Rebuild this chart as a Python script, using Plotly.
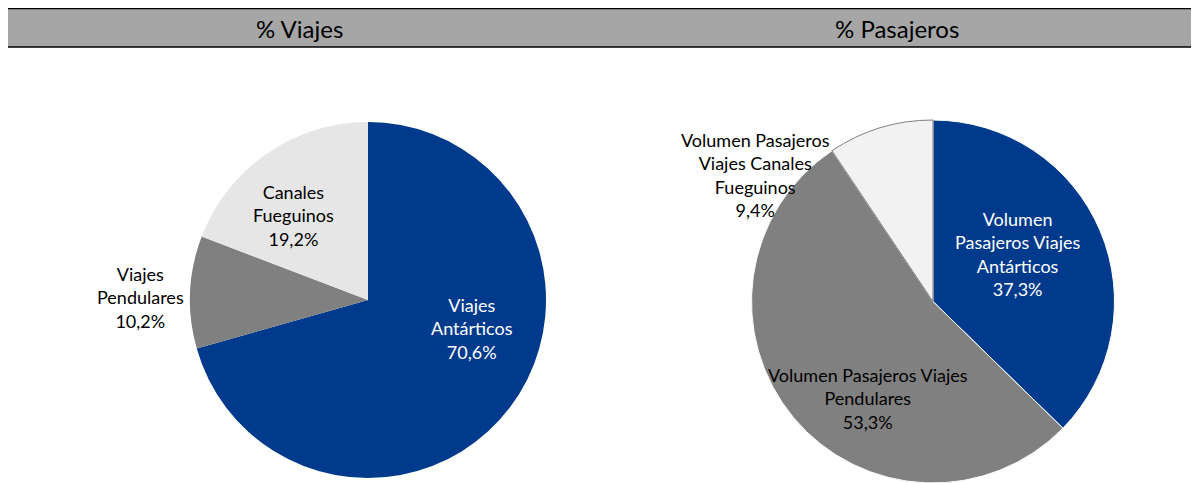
import plotly.graph_objects as go

# data
categorias_viajes = ["Viajes<br>Antárticos", "Viajes<br>Pendulares", "Canales<br>Fueguinos"]
pct_viajes = [70.6, 10.2, 19.2]

categorias_pasajeros = ["Volumen<br>Pasajeros Viajes<br>Antárticos",
                        "Volumen Pasajeros Viajes<br>Pendulares",
                        "Volumen Pasajeros<br>Viajes Canales<br>Fueguinos"]
pct_pasajeros = [37.3, 53.3, 9.4]

titulos = ["% Viajes", "% Pasajeros"]

# page is shown with the browser's default 8px body margin
OFF = 8
W, H = 1199 - OFF, 483 - OFF
FONT = "Lato"
AZUL, GRIS = "#003A8C", "#808080"


def px(x, y):
    """page pixel -> paper coords"""
    return (x - OFF) / W, 1 - (y - OFF) / H


def pct_txt(vals):
    return [f"{v:.1f}".replace(".", ",") + "%" for v in vals]


fig = go.Figure()

# left pie: centre (368, 300), radius 178
lx0, ly1 = px(190, 122)
lx1, ly0 = px(546, 478)
fig.add_trace(go.Pie(
    labels=categorias_viajes, values=pct_viajes, sort=False, direction="clockwise", rotation=0,
    textinfo="none", marker=dict(colors=[AZUL, GRIS, "#E6E6E6"], line=dict(width=0)),
    domain=dict(x=[lx0, lx1], y=[ly0, ly1]), showlegend=False, hoverinfo="label+percent",
))

# right pie: centre (933, 301), radius 181.5
rx0, ry1 = px(751.5, 120)
rx1, _ = px(1114.5, 483)
fig.add_trace(go.Pie(
    labels=categorias_pasajeros, values=pct_pasajeros, sort=False, direction="clockwise", rotation=0,
    textinfo="none",
    marker=dict(colors=[AZUL, GRIS, "#F2F2F2"], line=dict(color=["white", "white", GRIS], width=1)),
    domain=dict(x=[rx0, rx1], y=[0, ry1]), showlegend=False, hoverinfo="label+percent",
))

# data labels, offsets (px) from each pie centre, placed like Excel's best fit
centros = [(368, 300), (933, 301)]
offs = [[(104, 28), (-228, -3), (-75, -85)],
        [(84, -47), (-65, 97), (-178, -126)]]
colores_txt = [["white", "black", "black"], ["white", "black", "black"]]
for (cx, cy), cats, vals, off, cols in zip(centros, [categorias_viajes, categorias_pasajeros],
                                           [pct_viajes, pct_pasajeros], offs, colores_txt):
    for c, p, (dx, dy), col in zip(cats, pct_txt(vals), off, cols):
        x, y = px(cx + dx, cy + dy)
        fig.add_annotation(x=x, y=y, xref="paper", yref="paper", xanchor="center", yanchor="middle",
                           text=f"{c}<br>{p}", showarrow=False,
                           font=dict(size=18, color=col, family=FONT))

# title band
bx0, by1 = px(5, 8)
_, by0 = px(5, 47)
fig.add_shape(type="rect", xref="paper", yref="paper", x0=bx0, x1=1, y0=by0, y1=by1,
              fillcolor="#A6A6A6", line_width=0, layer="below")
fig.add_shape(type="line", xref="paper", yref="paper", x0=bx0, x1=1, y0=by1, y1=by1,
              line=dict(color="black", width=2.5))
fig.add_shape(type="line", xref="paper", yref="paper", x0=bx0, x1=1, y0=by0, y1=by0,
              line=dict(color="black", width=1.5))
for xc, t in zip([299, 897], titulos):
    x, y = px(xc, 28)
    fig.add_annotation(x=x, y=y, xref="paper", yref="paper", xanchor="center", yanchor="middle",
                       text=t, showarrow=False, font=dict(size=24, color="black", family=FONT))

fig.update_layout(width=W, height=H, margin=dict(l=0, r=0, t=0, b=0),
                  paper_bgcolor="white", plot_bgcolor="white", font=dict(family=FONT))
fig.write_html("out.html")
